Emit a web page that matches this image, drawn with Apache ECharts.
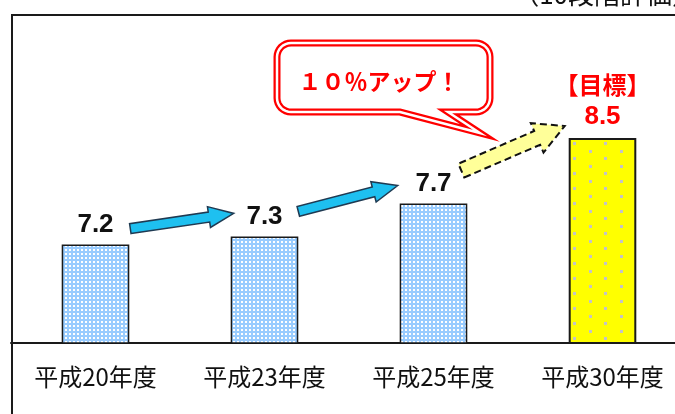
<!DOCTYPE html>
<html>
<head>
<meta charset="utf-8">
<script src="https://cdn.jsdelivr.net/npm/echarts@6/dist/echarts.min.js"></script>
<style>
  html, body { margin: 0; padding: 0; background: #ffffff; overflow: hidden; width: 675px; height: 414px; }
  /* the plot area runs a little past the right edge of the page */
  #chart { width: 687px; height: 414px; }
</style>
</head>
<body>
<div id="chart"></div>
<script>
// Survey score (10-point scale) by fiscal year, with the target year highlighted
const categories = ['平成20年度', '平成23年度', '平成25年度', '平成30年度'];
const scores = [7.2, 7.3, 7.7, 8.5];
const goalIndex = 3;
const goalTitle = '【目標】';
const calloutText = '１０％アップ！';
const scaleNote = '（10段階評価）';
const yMin = 6;
const yMax = 10;

// Small tiled canvases used as bar fill patterns
function makePattern(w, h, bg, dot, dots) {
  const c = document.createElement('canvas');
  c.width = w; c.height = h;
  const g = c.getContext('2d');
  g.fillStyle = bg; g.fillRect(0, 0, w, h);
  g.fillStyle = dot;
  dots.forEach(d => g.fillRect(d[0], d[1], d[2], d[3]));
  return c;
}
const bluePattern = makePattern(4, 4, '#99ccff', '#ffffff', [[1, 1, 2, 2]]);
const yellowPattern = makePattern(31, 15, '#ffff00', '#c4c4c4', [[0, 0, 3, 3], [15, 7, 3, 3]]);

const chart = echarts.init(document.getElementById('chart'), null, { renderer: 'canvas' });

const seriesData = scores.map((v, i) => {
  const isGoal = i === goalIndex;
  const item = {
    value: v,
    itemStyle: {
      color: { image: isGoal ? yellowPattern : bluePattern, repeat: 'repeat' },
      borderColor: '#1a1a1a',
      borderWidth: isGoal ? 2 : 1.5
    }
  };
  if (isGoal) {
    item.label = {
      formatter: '{t|' + goalTitle + '}\n{v|{c}}',
      distance: 8,
      rich: {
        t: { color: '#ff0000', fontSize: 24, fontWeight: 'bold', fontFamily: 'Noto Sans CJK JP', lineHeight: 38 },
        v: { color: '#ff0000', fontSize: 26, fontWeight: 'bold', fontFamily: 'Liberation Sans', lineHeight: 26 }
      }
    };
  }
  return item;
});

chart.setOption({
  animation: false,
  backgroundColor: '#ffffff',
  grid: { left: 11, top: 15, right: 0, bottom: 71, containLabel: false },
  xAxis: {
    type: 'category',
    data: categories,
    axisLine: { lineStyle: { color: '#1a1a1a', width: 2 } },
    axisTick: { inside: true, length: 6, lineStyle: { color: '#1a1a1a', width: 1.5 } },
    axisLabel: { fontSize: 24, color: '#111111', margin: 22, fontFamily: 'Noto Sans CJK JP' }
  },
  yAxis: { type: 'value', min: yMin, max: yMax, show: false },
  series: [{
    type: 'bar',
    barWidth: '40%',
    data: seriesData,
    label: {
      show: true,
      position: 'top',
      distance: 7,
      color: '#111111',
      fontSize: 26,
      fontWeight: 'bold',
      fontFamily: 'Liberation Sans'
    }
  }]
});

// Arrow polygon from tail centre to tip
function arrowPoints(tail, tip, shaftHalf, headHalf, headLen) {
  const dx = tip[0] - tail[0], dy = tip[1] - tail[1];
  const len = Math.hypot(dx, dy);
  const ux = dx / len, uy = dy / len;
  const nx = -uy, ny = ux;
  const neck = [tip[0] - ux * headLen, tip[1] - uy * headLen];
  return [
    [tail[0] + nx * shaftHalf, tail[1] + ny * shaftHalf],
    [neck[0] + nx * shaftHalf, neck[1] + ny * shaftHalf],
    [neck[0] + nx * headHalf, neck[1] + ny * headHalf],
    tip,
    [neck[0] - nx * headHalf, neck[1] - ny * headHalf],
    [neck[0] - nx * shaftHalf, neck[1] - ny * shaftHalf],
    [tail[0] - nx * shaftHalf, tail[1] - ny * shaftHalf]
  ];
}

// Rounded speech bubble with a tail on the bottom edge
function bubblePoints(x0, y0, x1, y1, r, tailRight, tip, tailLeft) {
  const pts = [];
  const arc = (cx, cy, a0, a1) => {
    for (let k = 0; k <= 8; k++) {
      const a = (a0 + (a1 - a0) * k / 8) * Math.PI / 180;
      pts.push([cx + r * Math.cos(a), cy + r * Math.sin(a)]);
    }
  };
  arc(x1 - r, y0 + r, -90, 0);
  arc(x1 - r, y1 - r, 0, 90);
  pts.push([tailRight, y1], tip, [tailLeft, y1]);
  arc(x0 + r, y1 - r, 90, 180);
  arc(x0 + r, y0 + r, 180, 270);
  return pts;
}

// Anchor the arrows to the bar tops
const barTop = scores.map((v, i) => chart.convertToPixel({ seriesIndex: 0 }, [i, v]));
const bandHalf = (chart.convertToPixel({ xAxisIndex: 0 }, 1) - chart.convertToPixel({ xAxisIndex: 0 }, 0)) * 0.2;

const arrowSpecs = [
  { from: 0, tailDx: 1, tailDy: -16, tipDx: 3, tipDy: -23, shaft: 5, head: 10.5, len: 25, fill: '#1ec0f0', stroke: '#1f3a52', dash: null },
  { from: 1, tailDx: 0, tailDy: -25, tipDx: -2, tipDy: -18, shaft: 5, head: 10.5, len: 25, fill: '#1ec0f0', stroke: '#1f3a52', dash: null },
  { from: 2, tailDx: -6, tailDy: -33, tipDx: -4, tipDy: -12, shaft: 7.5, head: 16, len: 30, fill: '#ffff99', stroke: '#111111', dash: [7, 4] }
];

const graphics = [];
arrowSpecs.forEach(a => {
  const p0 = barTop[a.from], p1 = barTop[a.from + 1];
  const tail = [p0[0] + bandHalf + a.tailDx, p0[1] + a.tailDy];
  const tip = [p1[0] - bandHalf + a.tipDx, p1[1] + a.tipDy];
  graphics.push({
    type: 'polygon',
    z: 20,
    shape: { points: arrowPoints(tail, tip, a.shaft, a.head, a.len) },
    style: { fill: a.fill, stroke: a.stroke, lineWidth: a.dash ? 2 : 1.5, lineDash: a.dash, lineJoin: 'miter' }
  });
});

// Callout bubble
const bubble = bubblePoints(277, 43, 490, 112, 14, 448, [480, 133], 400);
graphics.push(
  { type: 'polygon', z: 20, shape: { points: bubble }, style: { fill: '#ffffff', stroke: '#ff0000', lineWidth: 7, lineJoin: 'miter' } },
  { type: 'polygon', z: 21, shape: { points: bubble }, style: { fill: null, stroke: '#ffffff', lineWidth: 2.5, lineJoin: 'miter' } },
  { type: 'text', z: 22, x: 379, y: 81, style: { text: calloutText, fill: '#ff0000', font: 'bold 23px "Noto Sans CJK JP"', textAlign: 'center', textVerticalAlign: 'middle' } }
);

// Plot-area frame and scale note
graphics.push(
  { type: 'line', z: 15, shape: { x1: 11, y1: 15, x2: 687, y2: 15 }, style: { stroke: '#1a1a1a', lineWidth: 2 } },
  { type: 'line', z: 15, shape: { x1: 12, y1: 14, x2: 12, y2: 414 }, style: { stroke: '#1a1a1a', lineWidth: 2 } },
  { type: 'text', z: 15, x: 698, y: -6, style: { text: scaleNote, fill: '#111111', font: '26px "Noto Sans CJK JP"', textAlign: 'right', textVerticalAlign: 'middle' } }
);

chart.setOption({ graphic: graphics });
</script>
</body>
</html>
